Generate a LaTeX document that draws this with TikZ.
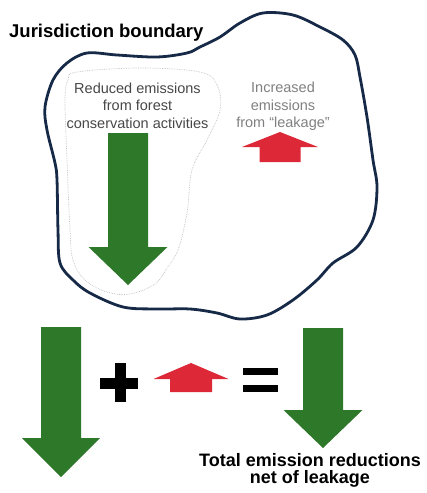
\documentclass[tikz,border=0pt]{standalone}
\usepackage{fontspec}
\setmainfont{Liberation Sans}
\definecolor{leafgreen}{RGB}{46,120,42}
\definecolor{leakred}{RGB}{220,40,55}
\definecolor{bnavy}{RGB}{22,42,72}

\begin{document}
\begin{tikzpicture}[x=1pt,y=-1pt,
  bd/.style={draw=bnavy,line width=2.8pt,line join=round},
  pen/.style={draw=black!25,line width=0.7pt,densely dotted},
  bar/.style={fill=black},
  lab/.style={inner sep=0pt,align=center,font=\fontsize{14.5}{17.5}\selectfont},
  big/.style={inner sep=0pt,align=center,font=\bfseries\fontsize{18}{17.2}\selectfont}]
  \useasboundingbox (0,0) rectangle (427,493);
  \draw[bd] plot[smooth cycle,tension=0.55] coordinates {(57,180) (58,230) (60,263) (73,280) (90,293) (123,307) (157,309) (190,309) (217,313) (240,319) (267,315) (293,300) (317,280) (333,263) (357,247) (373,220) (377,187) (373,160) (367,117) (360,77) (355,55) (343,40) (320,27) (293,15) (263,13) (240,23) (220,37) (200,47) (187,53) (157,57) (117,55) (87,53) (67,63) (53,80) (45,107) (47,130) (55,163)};
  \draw[pen] plot[smooth cycle,tension=0.6] coordinates {(77,72) (140,68) (200,72) (217,85) (220,110) (207,140) (192,170) (187,213) (178,250) (167,268) (155,284) (130,294) (107,292) (85,280) (73,260) (70,230) (67,160) (65,100) (68,80)};
  \foreach \c/\e/\b/\t/\s/\h/\col in {128/133/247/285/20/39.5/leafgreen, 61/327/438/477/20/39/leafgreen, 323/328/410/448/20/39.5/leafgreen, 280/162/147/132/20.5/38/leakred, 191/392/379/363/21/37.5/leakred}
    \fill[fill=\col] ({\c-\s},\e) -- ({\c-\s},\b) -- ({\c-\h},\b) -- (\c,\t) -- ({\c+\h},\b) -- ({\c+\s},\b) -- ({\c+\s},\e) -- cycle;
  \fill[bar] (100,377.5) rectangle (138,388.5); \fill[bar] (114.5,363) rectangle (125.5,402);
  \fill[bar] (243,368) rectangle (278,375); \fill[bar] (243,385) rectangle (278,391.5);
  \node[big,anchor=base west,font=\bfseries\fontsize{18.5}{20}\selectfont] (jur) at (9,37) {Jurisdiction boundary};
  \node[lab,text=black!72] (redtxt) at (137.5,105.5) {Reduced emissions\\from forest\\conservation activities};
  \node[lab,text=black!50] (inctxt) at (283,106.5) {Increased\\emissions\\from “leakage”};
  \node[big,anchor=north] (nettxt) at (310,453) {Total emission reductions\\net of leakage};
\end{tikzpicture}
\end{document}
